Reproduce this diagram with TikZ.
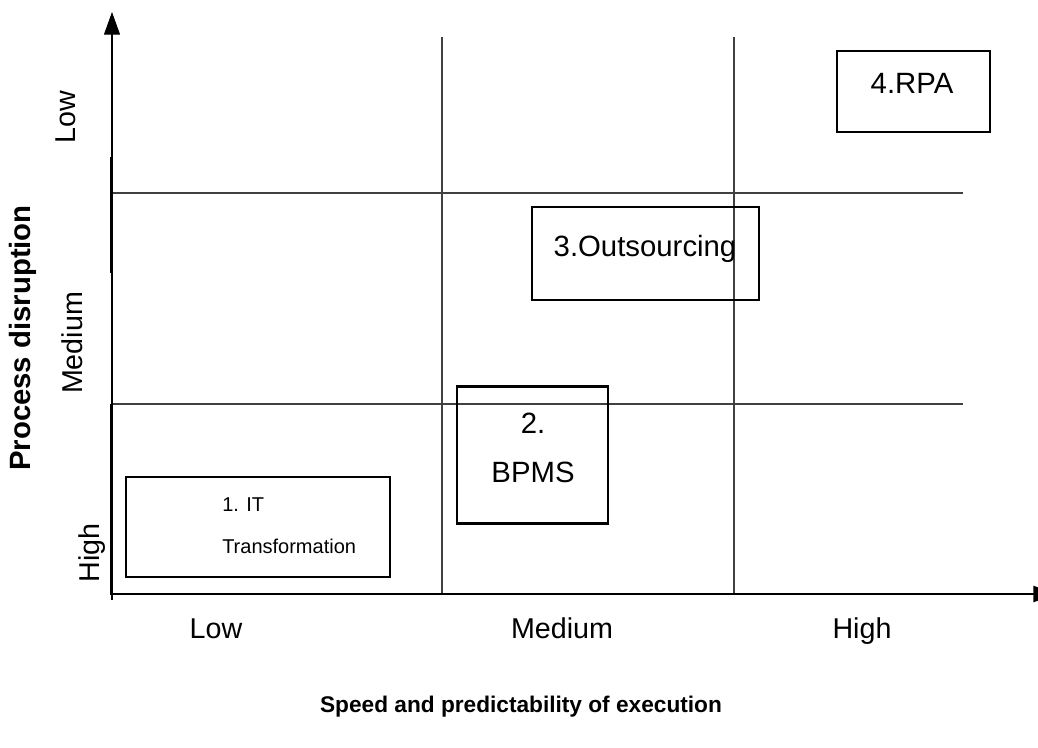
\documentclass[tikz,border=0pt]{standalone}
\usepackage{fontspec}
\setmainfont{Liberation Sans}
\usetikzlibrary{arrows.meta}
\begin{document}
\begin{tikzpicture}[x=0.75pt,y=-0.75pt,
  grid/.style={draw=black!75,line width=0.9pt},
  axisthin/.style={draw=black,line width=0.8pt},
  axisthick/.style={draw=black,line width=1.8pt},
  boxnode/.style={draw=black,line width=2pt,rectangle,inner sep=0pt},
  lbl/.style={font=\fontsize{21.5}{25}\selectfont,inner sep=0pt,anchor=base},
  boldlbl/.style={font=\bfseries\fontsize{22}{25}\selectfont,inner sep=0pt,anchor=base},
  boxtext/.style={font=\fontsize{22}{25}\selectfont,inner sep=0pt,anchor=base},
  smalltext/.style={font=\fontsize{15}{18}\selectfont,inner sep=0pt,anchor=base west},
  tip/.style={-{Triangle[length=17pt,width=12pt]}}
]
\path[use as bounding box] (0,0) rectangle (1038,747);
\clip (0,0) rectangle (1038,747);
% coordinates
\coordinate (O) at (112,594);
\coordinate (ybot) at (112,600);
\coordinate (ytip) at (112,12);
\coordinate (xtip) at (1056,594);
\coordinate (v1t) at (442,37);
\coordinate (v1b) at (442,594);
\coordinate (v2t) at (734,37);
\coordinate (v2b) at (734,594);
\coordinate (h1l) at (112,193);
\coordinate (h1r) at (963,193);
\coordinate (h2l) at (112,404);
\coordinate (h2r) at (963,404);
\coordinate (t1a) at (111,157);
\coordinate (t1b) at (111,273);
\coordinate (t2a) at (111,404);
\coordinate (t2b) at (111,595);
% grid
\draw[grid] (v1t) -- (v1b);
\draw[grid] (v2t) -- (v2b);
\draw[grid] (h1l) -- (h1r);
\draw[grid] (h2l) -- (h2r);
% axes
\draw[axisthin,tip] (ybot) -- (ytip);
\draw[axisthick] (t1a) -- (t1b);
\draw[axisthick] (t2a) -- (t2b);
\draw[axisthick,tip] (O) -- (xtip);
% boxes
\node[boxnode,minimum width=198pt,minimum height=75pt] (b1) at (258,527) {};
\node[boxnode,minimum width=113.25pt,minimum height=102.75pt] (b2) at (532.5,455) {};
\node[boxnode,minimum width=170.25pt,minimum height=69.75pt] (b3) at (645.5,253.5) {};
\node[boxnode,minimum width=114.75pt,minimum height=60.75pt] (b4) at (913.5,91.5) {};
\node[smalltext] (b1a) at (222,511) {1. IT};
\node[smalltext] (b1b) at (222,553) {Transformation};
\node[boxtext] (b2a) at (533,433) {2.};
\node[boxtext] (b2b) at (533,482) {BPMS};
\node[boxtext] (b3a) at (645,256) {3.Outsourcing};
\node[boxtext] (b4a) at (912,93) {4.RPA};
% axis labels
\node[lbl,rotate=90] (yl1) at (75,117) {Low};
\node[lbl,rotate=90] (yl2) at (82,343) {Medium};
\node[lbl,rotate=90] (yl3) at (99,553) {High};
\node[boldlbl,rotate=90] (ytitle) at (31,338) {Process disruption};
\node[lbl] (xl1) at (216,638) {Low};
\node[lbl] (xl2) at (562,638) {Medium};
\node[lbl] (xl3) at (862,638) {High};
\node[boldlbl,font=\bfseries\fontsize{17}{20}\selectfont] (xtitle) at (521,712) {Speed and predictability of execution};
\end{tikzpicture}
\end{document}
